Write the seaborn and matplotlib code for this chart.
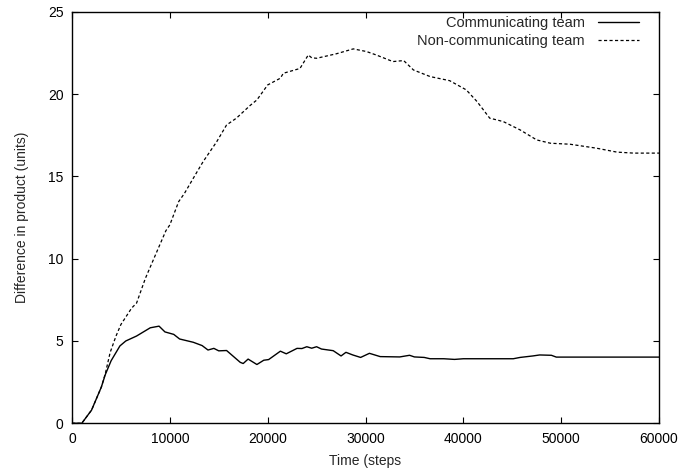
import numpy as np
import pandas as pd
import matplotlib
matplotlib.use("Agg")
import matplotlib.pyplot as plt
import seaborn as sns

# values
comm_steps = [0, 1000, 2000, 3000, 3400, 4000, 4900, 5500, 6600, 8000, 8900, 9500,
              10400, 11000, 12400, 13300, 13900, 14500, 15000, 15800, 17200, 17500,
              18000, 18900, 19600, 20100, 21300, 21900, 23000, 23500, 24000, 24500,
              25000, 25500, 26700, 27500, 28000, 28700, 29500, 30400, 31500, 33500,
              34500, 35000, 36000, 36600, 38000, 39100, 40000, 45100, 45800, 47100,
              47800, 49000, 49500, 60000]
comm_diff = [0.0, 0.0, 0.8, 2.2, 2.95, 3.8, 4.7, 5.0, 5.3, 5.8, 5.9, 5.55,
             5.4, 5.12, 4.92, 4.72, 4.45, 4.55, 4.4, 4.42, 3.7, 3.63,
             3.9, 3.57, 3.83, 3.87, 4.38, 4.22, 4.55, 4.54, 4.65, 4.56,
             4.65, 4.51, 4.41, 4.09, 4.31, 4.15, 4.0, 4.25, 4.05, 4.03,
             4.13, 4.03, 4.0, 3.92, 3.92, 3.88, 3.92, 3.92, 4.0, 4.09,
             4.15, 4.13, 4.02, 4.02]

noncomm_steps = [0, 1000, 2000, 3000, 3400, 3900, 4500, 5000, 6100, 6600, 7500, 8800,
                 9600, 10000, 10900, 11500, 12700, 13400, 14800, 15800, 16800, 18200,
                 18900, 20000, 21300, 21600, 23300, 24150, 24500, 25000, 27000, 28750,
                 30100, 31100, 32800, 33900, 34900, 36600, 38600, 40300, 41400, 42700,
                 43400, 44100, 45800, 47500, 48900, 50900, 53600, 55700, 57400, 60000]
noncomm_diff = [0.0, 0.0, 0.8, 2.2, 3.0, 4.3, 5.3, 6.0, 7.0, 7.3, 8.8, 10.6,
                11.7, 12.05, 13.46, 13.97, 15.19, 15.89, 17.11, 18.12, 18.53, 19.3,
                19.64, 20.55, 20.96, 21.26, 21.55, 22.37, 22.2, 22.17, 22.44, 22.74,
                22.58, 22.37, 21.97, 22.03, 21.46, 21.06, 20.81, 20.25, 19.54, 18.53,
                18.43, 18.32, 17.82, 17.21, 17.01, 16.95, 16.71, 16.47, 16.41, 16.41]

sns.set_style("ticks")
plt.rcParams['font.family'] = ['Liberation Sans', 'DejaVu Sans']
plt.rcParams['font.size'] = 10

fig = plt.figure(figsize=(6.83, 4.73), dpi=100)
ax = fig.add_axes([0.1054, 0.1051, 0.8595, 0.8702])

comm = pd.DataFrame({'t': comm_steps, 'd': comm_diff})
noncomm = pd.DataFrame({'t': noncomm_steps, 'd': noncomm_diff})

sns.lineplot(data=comm, x='t', y='d', ax=ax, color='black', lw=1.0,
             label='Communicating team')
sns.lineplot(data=noncomm, x='t', y='d', ax=ax, color='black', lw=0.9,
             linestyle=(0, (2.5, 1.9)), label='Non-communicating team')

ax.set_xlim(0, 60000)
ax.set_ylim(0, 25)
ax.set_xticks(np.arange(0, 60001, 10000))
ax.set_yticks(np.arange(0, 26, 5))
ax.tick_params(direction='in', length=4.5, width=0.8, top=True, right=True,
               labelsize=10, pad=6, colors='black')
for s in ax.spines.values():
    s.set_linewidth(1.0)
    s.set_color('black')

ax.set_xlabel('Time (steps', fontsize=10, labelpad=6)
ax.set_ylabel('Difference in product (units)', fontsize=10, labelpad=14)

ax.legend(loc='upper right', bbox_to_anchor=(0.973, 1.0), frameon=False,
          markerfirst=False, fontsize=10.5, handlelength=2.8, handletextpad=0.9,
          labelspacing=0.3, borderaxespad=0.1, borderpad=0.2)

fig.savefig('out.png', dpi=100)
